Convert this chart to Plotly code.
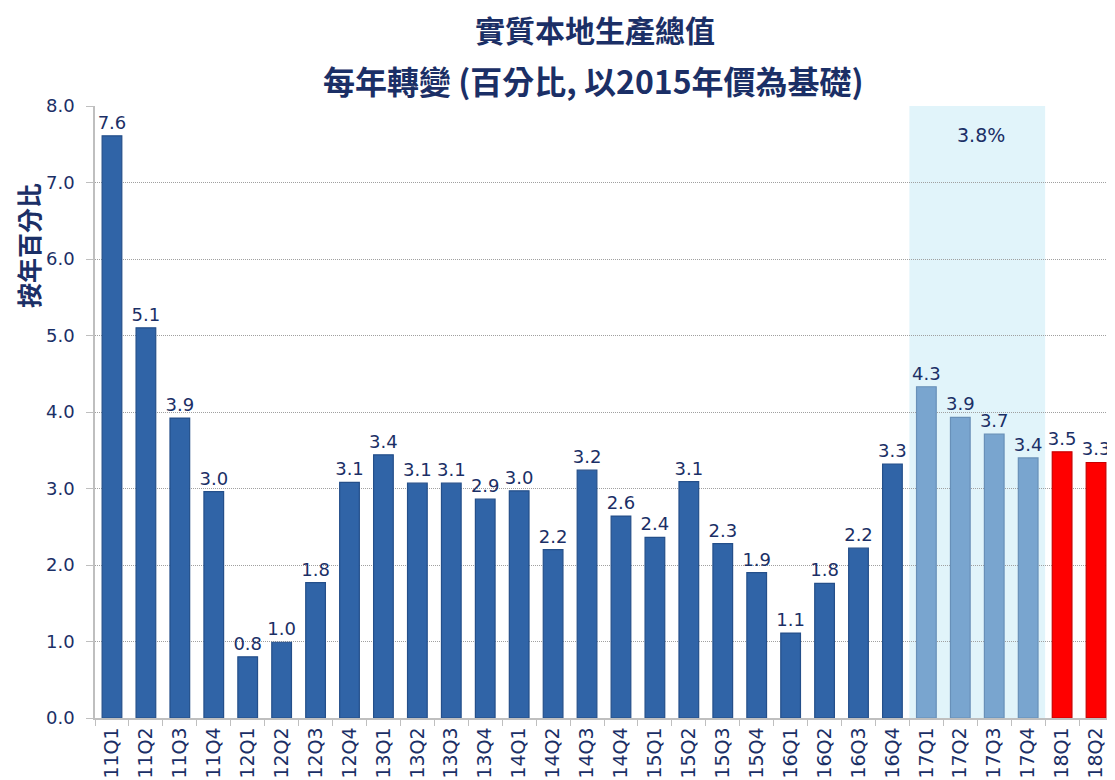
import plotly.graph_objects as go

quarters = ["11Q1", "11Q2", "11Q3", "11Q4", "12Q1", "12Q2", "12Q3", "12Q4",
            "13Q1", "13Q2", "13Q3", "13Q4", "14Q1", "14Q2", "14Q3", "14Q4",
            "15Q1", "15Q2", "15Q3", "15Q4", "16Q1", "16Q2", "16Q3", "16Q4",
            "17Q1", "17Q2", "17Q3", "17Q4", "18Q1", "18Q2"]
growth = [7.61, 5.10, 3.92, 2.96, 0.80, 0.99, 1.77, 3.08,
          3.44, 3.07, 3.07, 2.86, 2.97, 2.20, 3.24, 2.64,
          2.36, 3.09, 2.28, 1.90, 1.11, 1.76, 2.22, 3.32,
          4.33, 3.93, 3.71, 3.40, 3.48, 3.34]
labels = ["7.6", "5.1", "3.9", "3.0", "0.8", "1.0", "1.8", "3.1",
          "3.4", "3.1", "3.1", "2.9", "3.0", "2.2", "3.2", "2.6",
          "2.4", "3.1", "2.3", "1.9", "1.1", "1.8", "2.2", "3.3",
          "4.3", "3.9", "3.7", "3.4", "3.5", "3.3"]
year_2017_avg = "3.8%"
highlight_start, highlight_end = "17Q1", "17Q4"

NAVY = "#1b2f66"
colors = []
lines = []
for q in quarters:
    if q.startswith("17"):
        colors.append("#79a5cf")
        lines.append("#6890b8")
    elif q.startswith("18"):
        colors.append("#ff0000")
        lines.append("#c80000")
    else:
        colors.append("#3064a7")
        lines.append("#244f8a")

# page offset of the plotly div (body margin) and plot-area geometry
OFF = 8
W, H = 1115 - OFF, 780 - OFF
ML, MR, MT, MB = 95 - OFF, 2, 106 - OFF, 62
PW = W - ML - MR
PH = H - MT - MB


def px(page_x):
    return (page_x - 95) / PW


def py(page_y):
    return (718 - page_y) / PH


fig = go.Figure()
fig.add_trace(go.Bar(
    x=quarters, y=growth, text=labels, textposition="outside",
    constraintext="none",
    textfont=dict(family="DejaVu Sans", size=18, color=NAVY),
    cliponaxis=False,
    marker=dict(color=colors, line=dict(color=lines, width=1.2)),
))

i0 = quarters.index(highlight_start)
i1 = quarters.index(highlight_end)
fig.add_shape(type="rect", xref="x", yref="y", x0=i0 - 0.5, x1=i1 + 0.5,
              y0=0, y1=8, fillcolor="#e1f4fa", line=dict(width=0), layer="below")
fig.add_annotation(x=(i0 + i1) / 2 + 0.1, y=7.62, xref="x", yref="y", text=year_2017_avg,
                   showarrow=False, font=dict(family="DejaVu Sans", size=19, color=NAVY))

fig.add_annotation(text="<b>實質本地生產總值</b>", xref="paper", yref="paper",
                   x=px(595), y=py(29), yanchor="middle", showarrow=False, borderpad=0,
                   font=dict(family="Noto Sans CJK TC", size=30, color=NAVY))
fig.add_annotation(text="<b>每年轉變 (百分比, 以2015年價為基礎)</b>", xref="paper", yref="paper",
                   x=px(593), y=py(80), yanchor="middle", showarrow=False, borderpad=0,
                   font=dict(family="Noto Sans CJK TC", size=32, color=NAVY))
fig.add_annotation(text="<b>按年百分比</b>", xref="paper", yref="paper",
                   x=px(28), y=py(246), xanchor="center", yanchor="middle",
                   textangle=-90, showarrow=False,
                   font=dict(family="Noto Sans CJK TC", size=25, color=NAVY))

fig.update_layout(
    width=W, height=H,
    margin=dict(l=ML, r=MR, t=MT, b=MB, autoexpand=False),
    plot_bgcolor="white", paper_bgcolor="white",
    bargap=0.42, showlegend=False,
    xaxis=dict(tickangle=-90, tickfont=dict(family="DejaVu Sans", size=19, color=NAVY),
               showline=True, linecolor="#bfbfbf", linewidth=1.5,
               ticks="outside", tickson="boundaries", ticklen=6, tickcolor="#bfbfbf",
               showgrid=False, automargin=False),
    yaxis=dict(range=[0, 8], dtick=1, tickformat=".1f",
               tickfont=dict(family="DejaVu Sans", size=18, color=NAVY),
               showline=True, linecolor="#bfbfbf", linewidth=1.5,
               ticks="outside", ticklen=7, tickcolor="#bfbfbf", ticklabelstandoff=8,
               showgrid=True, gridcolor="#a0a0a0", griddash="1px,1px", gridwidth=1,
               zeroline=False, automargin=False),
)

fig.write_html("out.html")
